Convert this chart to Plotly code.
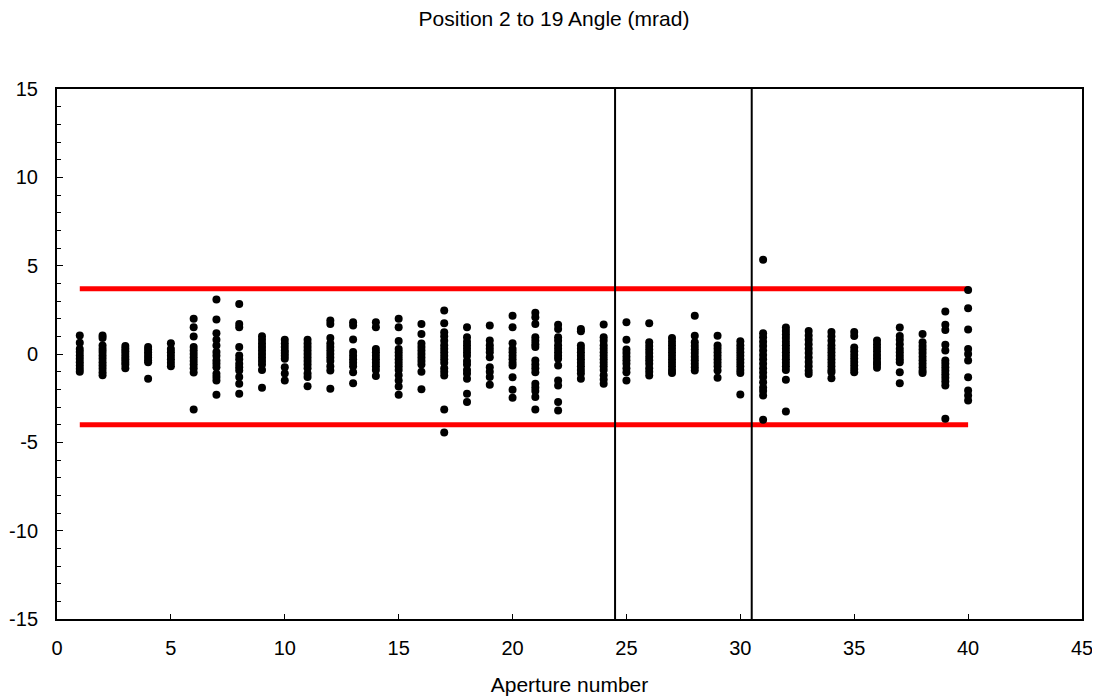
import plotly.graph_objects as go

# Angle readings (mrad) per aperture number
ap01 = [1.05, 0.63, 0.29, 0.11, -0.08, -0.27, -0.46, -0.65, -0.84, -1.0]
ap02 = [1.05, 0.9, 0.48, 0.29, 0.11, -0.08, -0.27, -0.46, -0.65, -0.84, -1.03, -1.2]
ap03 = [0.45, 0.3, 0.15, 0.0, -0.15, -0.3, -0.45, -0.6, -0.8]
ap04 = [0.39, 0.25, 0.1, -0.05, -0.2, -0.35, -0.46, -1.4]
ap05 = [0.61, 0.29, 0.1, -0.1, -0.3, -0.5, -0.7]
ap06 = [1.99, 1.51, 0.99, 0.39, 0.2, 0.0, -0.2, -0.4, -0.6, -0.8, -1.05, -3.14]
ap07 = [3.08, 1.95, 1.18, 0.8, 0.48, 0.11, -0.1, -0.37, -0.55, -0.75, -1.12, -1.3, -1.5, -2.3]
ap08 = [2.83, 1.7, 1.51, 0.39, -0.08, -0.3, -0.55, -0.75, -0.93, -1.3, -1.68, -2.25]
ap09 = [1.0, 0.8, 0.6, 0.4, 0.2, 0.0, -0.2, -0.4, -0.6, -0.9, -1.91]
ap10 = [0.8, 0.6, 0.4, 0.2, 0.05, -0.1, -0.27, -0.75, -1.1, -1.5]
ap11 = [0.8, 0.6, 0.4, 0.2, 0.0, -0.2, -0.4, -0.6, -0.8, -1.1, -1.3, -1.82]
ap12 = [1.89, 1.7, 0.9, 0.6, 0.4, 0.2, 0.0, -0.2, -0.4, -0.7, -0.93, -1.97]
ap13 = [1.8, 1.61, 0.82, 0.11, -0.1, -0.3, -0.5, -0.7, -1.03, -1.65]
ap14 = [1.8, 1.51, 0.29, 0.1, -0.1, -0.3, -0.5, -0.7, -0.9, -1.25]
ap15 = [1.99, 1.51, 0.73, 0.29, 0.1, -0.1, -0.3, -0.5, -0.7, -0.9, -1.2, -1.5, -1.84, -2.3]
ap16 = [1.7, 1.13, 0.6, 0.4, 0.2, 0.0, -0.2, -0.4, -0.6, -1.0, -2.0]
ap17 = [2.46, 1.74, 1.23, 1.0, 0.75, 0.5, 0.3, 0.1, -0.1, -0.3, -0.5, -0.8, -1.0, -1.22, -3.14, -4.45]
ap18 = [1.51, 0.95, 0.7, 0.5, 0.3, 0.1, -0.1, -0.4, -0.6, -0.9, -1.1, -1.4, -2.25, -2.72]
ap19 = [1.61, 0.76, 0.5, 0.3, 0.1, -0.18, -0.75, -1.0, -1.3, -1.74]
ap20 = [2.17, 1.51, 0.61, 0.29, 0.1, -0.1, -0.3, -0.5, -0.65, -1.31, -2.03, -2.48]
ap21 = [2.33, 2.08, 1.7, 0.95, 0.75, 0.55, 0.39, -0.37, -0.6, -0.8, -1.03, -1.69, -1.9, -2.1, -2.44, -3.14]
ap22 = [1.65, 1.42, 0.95, 0.75, 0.5, 0.3, 0.1, -0.1, -0.27, -0.65, -1.5, -1.78, -2.72, -3.2]
ap23 = [1.42, 1.29, 0.48, 0.3, 0.1, -0.1, -0.3, -0.5, -0.7, -0.9, -1.1, -1.4]
ap24 = [1.67, 0.95, 0.75, 0.5, 0.3, 0.1, -0.1, -0.3, -0.5, -0.7, -0.9, -1.2, -1.45, -1.68]
ap25 = [1.8, 0.8, 0.25, 0.05, -0.15, -0.35, -0.55, -0.8, -1.03, -1.5]
ap26 = [1.74, 0.67, 0.45, 0.25, 0.05, -0.15, -0.35, -0.55, -0.8, -1.0, -1.22]
ap27 = [0.91, 0.7, 0.5, 0.3, 0.1, -0.1, -0.3, -0.5, -0.7, -0.9, -1.08]
ap28 = [2.17, 1.04, 0.67, 0.45, 0.25, 0.05, -0.15, -0.35, -0.55, -0.75, -0.93]
ap29 = [1.04, 0.48, 0.3, 0.1, -0.1, -0.3, -0.5, -0.7, -0.93, -1.35]
ap30 = [0.72, 0.5, 0.3, 0.1, -0.1, -0.3, -0.5, -0.7, -0.9, -1.08, -2.29]
ap31 = [5.34, 1.17, 0.95, 0.7, 0.45, 0.2, -0.05, -0.3, -0.55, -0.8, -1.05, -1.3, -1.6, -1.9, -2.1, -2.35, -3.72]
ap32 = [1.5, 1.3, 1.1, 0.9, 0.7, 0.5, 0.3, 0.1, -0.1, -0.3, -0.5, -0.7, -0.9, -1.46, -3.25]
ap33 = [1.3, 1.05, 0.8, 0.55, 0.3, 0.05, -0.2, -0.45, -0.7, -0.95, -1.13]
ap34 = [1.25, 1.0, 0.75, 0.5, 0.3, 0.1, -0.1, -0.3, -0.5, -0.7, -0.9, -1.03, -1.37]
ap35 = [1.25, 1.02, 0.37, 0.15, -0.05, -0.25, -0.45, -0.65, -0.85, -1.03]
ap36 = [0.76, 0.55, 0.35, 0.15, -0.05, -0.25, -0.45, -0.6, -0.78]
ap37 = [1.5, 1.02, 0.8, 0.55, 0.3, 0.1, -0.1, -0.3, -0.46, -1.03, -1.65]
ap38 = [1.13, 0.67, 0.45, 0.25, 0.05, -0.15, -0.35, -0.55, -0.75, -0.95, -1.08]
ap39 = [2.4, 1.66, 1.36, 0.52, 0.2, -0.37, -0.55, -0.75, -0.95, -1.15, -1.35, -1.55, -1.78, -3.66]
ap40 = [3.62, 2.59, 1.38, 0.29, 0.0, -0.37, -1.31, -2.06, -2.35, -2.63]

angles = [ap01, ap02, ap03, ap04, ap05, ap06, ap07, ap08, ap09, ap10,
          ap11, ap12, ap13, ap14, ap15, ap16, ap17, ap18, ap19, ap20,
          ap21, ap22, ap23, ap24, ap25, ap26, ap27, ap28, ap29, ap30,
          ap31, ap32, ap33, ap34, ap35, ap36, ap37, ap38, ap39, ap40]
apertures = list(range(1, 41))

upper_limit = 3.7
lower_limit = -4.0
limit_x = [1, 40]
marker_lines_x = [24.5, 30.5]

x_ticks = [0, 5, 10, 15, 20, 25, 30, 35, 40, 45]
y_ticks = [-15, -10, -5, 0, 5, 10, 15]
y_tick_text = ["-15", "-10", "-5", "0", "5", "10", "15"]

xs, ys = [], []
for a, vals in zip(apertures, angles):
    for v in vals:
        xs.append(a)
        ys.append(v)

fig = go.Figure()
fig.add_trace(go.Scatter(x=limit_x, y=[upper_limit, upper_limit], mode="lines",
                         line=dict(color="#ff0000", width=5), showlegend=False))
fig.add_trace(go.Scatter(x=limit_x, y=[lower_limit, lower_limit], mode="lines",
                         line=dict(color="#ff0000", width=5), showlegend=False))
for xv in marker_lines_x:
    fig.add_trace(go.Scatter(x=[xv, xv], y=[-15, 15], mode="lines",
                             line=dict(color="black", width=2), showlegend=False))
fig.add_trace(go.Scatter(x=xs, y=ys, mode="markers",
                         marker=dict(color="black", size=8), showlegend=False))

fam = "Arial, Liberation Sans, sans-serif"
fig.update_layout(
    width=1092, height=691,
    margin=dict(l=49, r=18, t=81, b=80),
    paper_bgcolor="white", plot_bgcolor="white",
    font=dict(family=fam, size=20, color="black"),
    title=dict(text="Position 2 to 19 Angle (mrad)", x=0.5, xanchor="center",
               xref="container", yref="container",
               y=0.985, yanchor="middle", font=dict(size=21, family=fam)),
    xaxis=dict(range=[0, 45], tickvals=x_ticks, ticks="inside", automargin=False,
               ticklen=5, tickcolor="black", showgrid=False, zeroline=False,
               showline=True, linecolor="black", linewidth=2, mirror=True,
               ticklabelstandoff=10,
               title=dict(text="Aperture number", standoff=19, font=dict(size=21))),
    yaxis=dict(range=[-15, 15], tickvals=y_ticks, ticktext=y_tick_text, ticks="inside",
               automargin=False,
               ticklen=6, tickcolor="black", showgrid=False, zeroline=False,
               showline=True, linecolor="black", linewidth=2, mirror=True,
               ticklabelstandoff=13,
               minor=dict(dtick=1, ticks="inside", ticklen=4, tickcolor="black", showgrid=False)),
)
fig.write_html("out.html")
